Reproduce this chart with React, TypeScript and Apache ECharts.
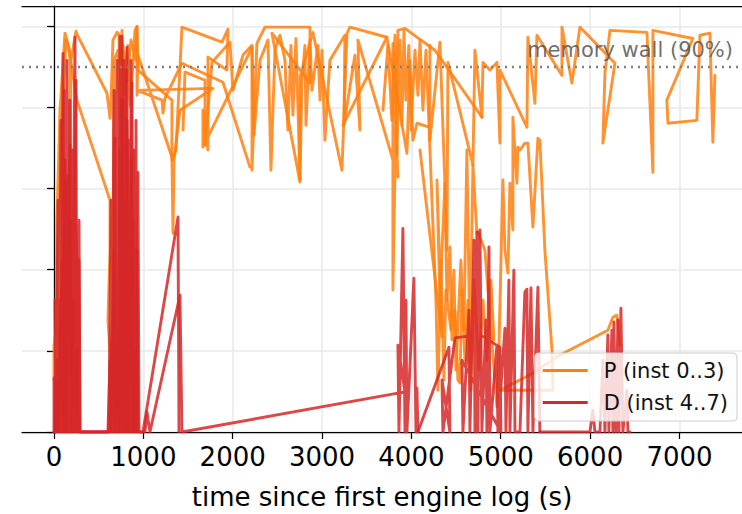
import React, { useEffect, useRef } from "react";
import * as echarts from "echarts";

const X_TICKS = [0, 1000, 2000, 3000, 4000, 5000, 6000, 7000];
const Y_TICKS = [0, 0.2, 0.4, 0.6, 0.8, 1.0];
const MEMORY_WALL = 0.9;
const WALL_LABEL = "memory wall (90%)";
const X_LABEL = "time since first engine log (s)";
const NAME_P = "P (inst 0..3)";
const NAME_D = "D (inst 4..7)";

// P instances (time s, memory fraction) in log order
const P0 = [
  [0, 0.128], [0, 0.214], [22, 0.251], [34, 0.53], [67, 0.793], [123, 0.983], [145, 0.966], [179, 0.936],
  [179, 0.53], [190, 0.916], [246, 0.988], [269, 0.975], [593, 0.835], [627, 0.773], [638, 0.818], [649, 0.892],
  [660, 0.966], [705, 0.985], [727, 0.98], [750, 0.719], [761, 0.99], [783, 0.83], [806, 0.916], [828, 0.953],
  [850, 0.805], [884, 0.904], [906, 0.99], [929, 1.0], [929, 0.83], [940, 0.929], [1320, 0.677], [1332, 0.49],
  [1343, 0.67], [1410, 0.793], [1779, 0.847], [929, 0.842], [1209, 0.818], [1220, 0.786], [1242, 0.823],
  [1432, 0.909], [1891, 0.862], [2193, 0.653],
];
const P1 = [
  [11, 0.079], [22, 0.177], [45, 0.448], [90, 0.768], [134, 0.966], [157, 0.953], [257, 0.818], [627, 0.571],
  [627, 0.448], [604, 0.276], [649, 0.128], [660, 0.325], [671, 0.916], [716, 0.941], [739, 0.768], [772, 0.953],
  [817, 0.867], [862, 0.966], [918, 0.916], [929, 0.998], [940, 0.892], [1320, 0.818], [1320, 0.67], [1365, 0.695],
  [1432, 0.998], [1880, 0.961], [1947, 0.993], [1936, 0.892], [1723, 0.924], [1723, 0.695], [1667, 0.793],
  [1667, 0.702], [2216, 0.948], [2216, 0.645], [2271, 0.958], [2361, 0.998], [2417, 0.998], [2865, 0.998],
  [2865, 0.86], [2439, 0.983], [2753, 0.616], [2753, 0.874], [2898, 0.985], [3223, 0.645], [3279, 0.983],
  [3312, 0.998], [3726, 0.973],
];
const P2 = [
  [1444, 0.744], [1466, 0.887], [1690, 0.867], [1690, 0.707], [1768, 0.911], [1969, 0.961], [2003, 0.842],
  [2115, 0.929], [2216, 0.953], [2238, 0.732], [2305, 0.916], [2395, 0.966], [2428, 0.645], [2473, 0.941],
  [2529, 0.978], [2585, 0.916], [2618, 0.744], [2652, 0.953], [2674, 0.781], [2708, 0.97], [2753, 0.621],
  [2775, 0.867], [2809, 0.953], [2820, 0.756], [2865, 0.966], [2887, 0.842], [2954, 0.953], [2977, 0.818],
  [2999, 0.941], [3032, 0.719], [3088, 0.916], [3256, 0.978], [3245, 0.756], [3368, 0.929], [3424, 0.744],
  [3402, 0.966], [3849, 0.628], [3793, 0.958], [3793, 0.35], [3827, 0.768], [3849, 0.99], [3928, 0.995],
  [4263, 0.941], [4789, 0.776],
];
const P3 = [
  [3234, 0.756], [3726, 0.973], [3950, 0.687], [3984, 0.916], [4017, 0.719], [4062, 0.761], [4207, 0.751],
  [4207, 0.953], [4207, 0.719], [4319, 0.961], [4375, 0.613], [4398, 0.448], [4409, 0.911], [4689, 0.658],
  [4711, 0.941], [4789, 0.776], [4801, 0.911], [4879, 0.892], [4957, 0.911], [4991, 0.712], [4991, 0.892],
  [5293, 0.751], [5304, 0.973], [5382, 0.81], [5405, 0.978], [5685, 0.879], [5685, 0.998], [5796, 0.86],
  [5886, 0.998], [6278, 0.909], [6143, 0.712], [6166, 0.884], [6222, 0.99], [6636, 0.985], [6703, 0.64],
  [6703, 0.99], [7150, 0.97], [6859, 0.818], [6871, 0.761], [7195, 0.768], [7229, 0.978], [7341, 0.983],
  [7374, 0.714], [7397, 0.879],
];
const P4 = [
  [4096, 0.695], [4342, 0.234], [4286, 0.621], [4319, 0.325], [4375, 0.613], [4398, 0.325], [4431, 0.456],
  [4454, 0.227], [4487, 0.3], [4521, 0.128], [4543, 0.121], [4566, 0.35], [4588, 0.251], [4621, 0.695],
  [4655, 0.202], [4689, 0.658], [4733, 0.49], [4744, 0.493], [4823, 0.448], [4957, 0.062], [4968, 0.103],
  [5024, 0.621], [5047, 0.448], [5080, 0.392], [5103, 0.613], [5136, 0.498], [5136, 0.776], [5181, 0.613],
  [5192, 0.702], [5215, 0.695], [5270, 0.712], [5304, 0.712], [5360, 0.505], [5416, 0.724], [5438, 0.719],
  [5494, 0.448], [5573, 0.202], [5584, 0.103], [4991, 0.103], [5360, 0.145], [5662, 0.19], [6199, 0.251],
  [6255, 0.283], [6300, 0.288], [6334, 0.214],
];
const P5 = [
  [3682, 0.793], [3737, 0.953], [3782, 0.768], [3816, 0.978], [3838, 0.682], [3872, 0.966], [3894, 0.756],
  [3917, 0.99], [3939, 0.818], [3972, 0.953], [3995, 0.744], [4040, 0.941], [4073, 0.83], [4096, 0.966],
  [4129, 0.793], [4163, 0.941], [4275, 0.325], [4297, 0.103], [4331, 0.424], [4364, 0.128], [4386, 0.35],
  [4443, 0.251], [4476, 0.399], [4498, 0.153], [4554, 0.424], [4599, 0.177], [4633, 0.325], [4666, 0.103],
  [4700, 0.374], [4756, 0.153], [4801, 0.325], [4845, 0.177], [4890, 0.374], [4924, 0.227],
];

// D instances
const D0 = [
  [0, 0], [0, 0.133], [11, 0], [34, 0.177], [45, 0], [67, 0.325], [78, 0], [101, 0.933], [112, 0], [134, 0.621],
  [145, 0], [157, 0.633], [168, 0], [190, 0.522], [201, 0], [235, 0.973], [246, 0], [269, 0.424], [280, 0.522],
  [291, 0], [593, 0], [627, 0], [649, 0.227], [660, 0], [683, 0.724], [694, 0], [705, 0.374], [716, 0],
  [739, 0.975], [750, 0], [761, 0.975], [772, 0], [794, 0.571], [806, 0], [817, 0.948], [828, 0], [839, 0.325],
  [850, 0], [873, 0.86], [884, 0], [906, 0.202], [918, 0], [940, 0.64], [951, 0], [996, 0], [1388, 0.53],
  [1399, 0],
];
const D1 = [
  [0, 0], [22, 0], [45, 0.128], [56, 0], [90, 0.424], [101, 0], [123, 0.67], [134, 0], [179, 0.707], [190, 0],
  [213, 0.325], [224, 0], [257, 0.202], [269, 0], [560, 0], [604, 0], [627, 0.177], [638, 0], [671, 0.448],
  [683, 0], [716, 0.251], [727, 0], [750, 0.818], [761, 0], [783, 0.916], [794, 0], [817, 0.768], [828, 0],
  [862, 0.67], [873, 0], [895, 0.695], [906, 0], [929, 0.448], [940, 0], [1018, 0], [1041, 0.049], [1074, 0],
  [1410, 0.337], [1432, 0], [3928, 0.099], [3849, 0.214], [3861, 0], [3905, 0.502], [3928, 0], [3939, 0.325],
  [3950, 0], [4028, 0.379], [4051, 0], [4062, 0.108], [4073, 0],
];
const D2 = [
  [4073, 0], [4420, 0.209], [4431, 0], [4342, 0.128], [4353, 0], [4487, 0.232], [4767, 0.24], [4991, 0.209],
  [5002, 0], [4566, 0.177], [4577, 0], [4644, 0.3], [4655, 0], [4700, 0.473], [4711, 0], [4733, 0.493],
  [4744, 0], [4767, 0.498], [4789, 0], [4834, 0.276], [4845, 0], [4868, 0.456], [4879, 0], [4957, 0.214],
  [4968, 0], [5047, 0.256], [5058, 0], [5091, 0.374], [5103, 0], [5147, 0.399], [5159, 0], [5215, 0],
  [5270, 0.345], [5293, 0.352], [5304, 0], [5338, 0.355], [5360, 0], [5416, 0.357], [5438, 0],
];
const D3 = [
  [5438, 0], [5998, 0], [6031, 0.054], [6054, 0], [6110, 0], [6143, 0.177], [6166, 0], [6199, 0.239],
  [6210, 0], [6244, 0.251], [6255, 0], [6266, 0.271], [6289, 0], [6311, 0.276], [6323, 0], [6345, 0.305],
  [6367, 0], [6412, 0.103], [6423, 0], [6445, 0],
];
const D4 = [
  [11, 0.325], [22, 0], [45, 0.571], [56, 0], [78, 0.768], [90, 0], [112, 0.842], [123, 0], [145, 0.916],
  [157, 0], [179, 0.818], [190, 0], [213, 0.695], [224, 0], [246, 0.867], [257, 0], [280, 0.424], [291, 0],
  [615, 0], [638, 0.571], [649, 0], [671, 0.842], [683, 0], [705, 0.916], [716, 0], [727, 0.695], [739, 0],
  [772, 0.818], [783, 0], [806, 0.892], [817, 0], [839, 0.719], [850, 0], [862, 0.916], [873, 0],
  [895, 0.522], [906, 0], [918, 0.768], [929, 0],
];

const P_SERIES = [P0, P1, P2, P3, P4, P5];
const D_SERIES = [D0, D1, D4, D2, D3];

const COLOR_P = "#ff7f0e";
const COLOR_D = "#d62728";
const FONT = "DejaVu Sans";

export default function App() {
  const ref = useRef<HTMLDivElement>(null);
  useEffect(() => {
    document.body.style.margin = "0";
    if (!ref.current) return;
    const chart = echarts.init(ref.current, undefined, { renderer: "svg" });
    const mkLine = (name: string, color: string, data: number[][]) => ({
      type: "line",
      name,
      data,
      color,
      showSymbol: false,
      symbol: "none",
      silent: true,
      itemStyle: { color },
      lineStyle: { color, width: 2.9, opacity: 0.85, join: "round", cap: "round" },
      emphasis: { disabled: true },
    });
    const series: any[] = [
      {
        type: "line",
        data: [],
        silent: true,
        markLine: {
          silent: true,
          symbol: "none",
          label: { show: false },
          lineStyle: { color: "#808080", width: 2.4, type: [2, 5] },
          data: [{ yAxis: MEMORY_WALL }],
        },
      },
      ...P_SERIES.map((d) => mkLine(NAME_P, COLOR_P, d)),
      ...D_SERIES.map((d) => mkLine(NAME_D, COLOR_D, d)),
    ];
    chart.setOption({
      animation: false,
      grid: { left: 22, right: 0, top: 6, bottom: 82, containLabel: false, outerBoundsMode: "none" },
      xAxis: [
        {
          type: "value",
          min: -358,
          max: 7700,
          minInterval: 1000,
          maxInterval: 1000,
          position: "bottom",
          axisLine: { show: true, lineStyle: { color: "#000", width: 1.25 } },
          axisTick: { show: true, length: 7, lineStyle: { color: "#000", width: 1.25 }, customValues: X_TICKS },
          axisLabel: {
            customValues: X_TICKS,
            fontSize: 26,
            fontFamily: FONT,
            color: "#000",
            margin: 12,
            formatter: (v: number) => String(v),
          },
          splitLine: { show: true, lineStyle: { color: "#e8e8e8", width: 1.5 } },
          name: X_LABEL,
          nameLocation: "middle",
          nameGap: 52,
          nameTextStyle: { fontSize: 26, fontFamily: FONT, color: "#000" },
        },
        {
          type: "value",
          min: -358,
          max: 7700,
          position: "top",
          axisLine: { show: true, lineStyle: { color: "#000", width: 1.25 } },
          axisTick: { show: false },
          axisLabel: { show: false },
          splitLine: { show: false },
        },
      ],
      yAxis: {
        type: "value",
        min: 0,
        max: 1.05,
        minInterval: 0.2,
        maxInterval: 0.2,
        axisLine: { show: true, lineStyle: { color: "#000", width: 1.25 } },
        axisTick: { show: true, length: 7, lineStyle: { color: "#000", width: 1.25 }, customValues: Y_TICKS },
        axisLabel: { show: false },
        splitLine: { show: true, lineStyle: { color: "#e8e8e8", width: 1.5 } },
      },
      legend: {
        data: [NAME_P, NAME_D],
        orient: "vertical",
        right: 5,
        top: 353,
        icon: "rect",
        itemWidth: 45,
        itemHeight: 3,
        itemGap: 11,
        padding: [7, 9, 8, 8],
        backgroundColor: "rgba(255,255,255,0.8)",
        borderColor: "#cccccc",
        borderWidth: 1,
        borderRadius: 4,
        selectedMode: false,
        textStyle: { fontSize: 21, fontFamily: FONT, color: "#111", padding: [0, 0, 0, 11] },
      },
      graphic: [
        {
          type: "text",
          right: 9,
          top: 39,
          z: 100,
          style: {
            text: WALL_LABEL,
            fontSize: 21,
            fontFamily: FONT,
            fill: "rgba(85,85,85,0.85)",
          },
        },
      ],
      series,
    });
    return () => chart.dispose();
  }, []);
  return <div ref={ref} style={{ width: 742, height: 514 }} />;
}
